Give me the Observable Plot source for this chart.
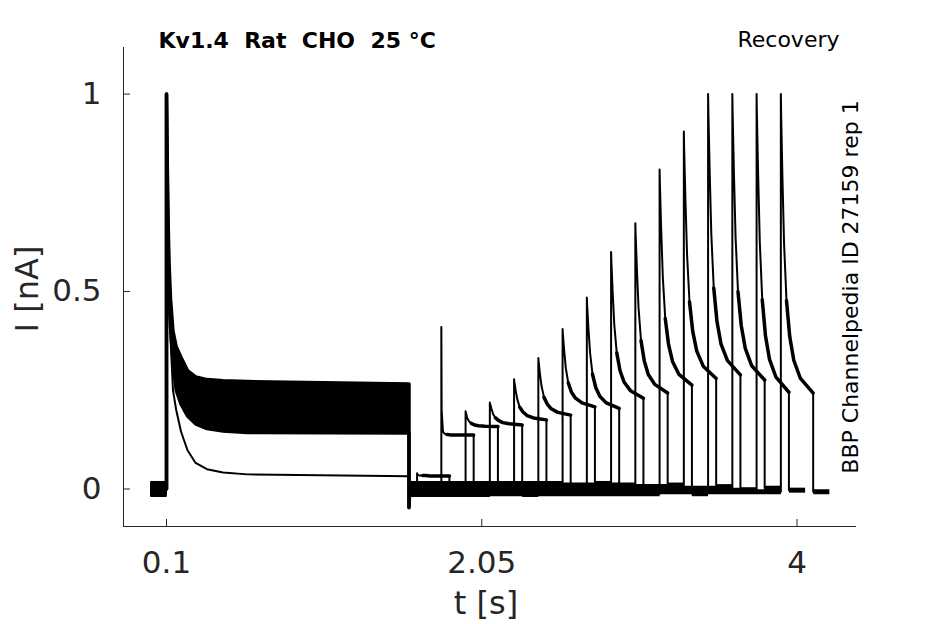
<!DOCTYPE html>
<html><head><meta charset="utf-8">
<script src="https://cdn.jsdelivr.net/npm/d3@7"></script>
<script src="https://cdn.jsdelivr.net/npm/@observablehq/plot@0.6"></script>
<style>body{margin:0;background:#fff;}</style>
</head><body><div id="chart"></div>
<script>
// ---- axes ----
const xTicks = [0.1, 2.05, 4];
const xTickLabels = ["0.1", "2.05", "4"];
const yTicks = [0, 0.5, 1];
const yTickLabels = ["0", "0.5", "1"];
const xDomain = [-0.166, 4.368];
const yDomain = [-0.095, 1.118];

// ---- protocol (s) ----
const pulse1Start = 0.1;
const pulse1End = 1.6;
const pulse2Duration = 0.2;
const tailDuration = 0.1;
const secondStart = [1.65, 1.8, 1.95, 2.1, 2.25, 2.4, 2.55, 2.7, 2.85, 3.0, 3.15, 3.3, 3.45, 3.6, 3.75, 3.9];
const baselineLevel = [0.012, -0.01, 0.004, -0.014, 0.008, -0.004, 0.014, -0.008, 0.0, 0.01, -0.012, 0.006, -0.002, 0.002, -0.003, -0.007];
const stepArtifact = -0.047;

// ---- first pulse (time after 0.1 s, nA) ----
const firstOffsets = [0, 0.003, 0.008, 0.015, 0.025, 0.04, 0.06, 0.09, 0.13, 0.18, 0.25, 0.35, 0.5, 1.5];
const firstUpper = [1, 0.88, 0.72, 0.58, 0.48, 0.40, 0.36, 0.333, 0.30, 0.284, 0.277, 0.274, 0.272, 0.266];
const firstLower = [1, 0.86, 0.68, 0.52, 0.41, 0.32, 0.25, 0.215, 0.185, 0.165, 0.153, 0.147, 0.143, 0.142];
const firstFast  = [1, 0.85, 0.66, 0.5, 0.38, 0.25, 0.2, 0.145, 0.098, 0.066, 0.05, 0.042, 0.037, 0.032];

// ---- second pulse (time after its start, nA), one row per sweep ----
const secondOffsets = [0, 0.002, 0.01, 0.02, 0.035, 0.055, 0.08, 0.12, 0.2];
const plateauFrom = 4; // index in secondOffsets where the noisy plateau begins
const secondPulse = [
  [0.04, 0.036, 0.035, 0.034, 0.034, 0.034, 0.033, 0.033, 0.033],
  [0.41, 0.2, 0.145, 0.14, 0.138, 0.137, 0.137, 0.137, 0.137],
  [0.197, 0.193, 0.18, 0.172, 0.166, 0.162, 0.16, 0.159, 0.158],
  [0.219, 0.215, 0.203, 0.19, 0.18, 0.173, 0.168, 0.165, 0.162],
  [0.278, 0.271, 0.249, 0.227, 0.207, 0.195, 0.186, 0.18, 0.175],
  [0.332, 0.322, 0.291, 0.26, 0.232, 0.215, 0.203, 0.194, 0.187],
  [0.405, 0.391, 0.35, 0.306, 0.269, 0.245, 0.23, 0.218, 0.208],
  [0.485, 0.465, 0.406, 0.345, 0.291, 0.257, 0.235, 0.218, 0.204],
  [0.60, 0.574, 0.496, 0.415, 0.345, 0.30, 0.271, 0.249, 0.23],
  [0.673, 0.643, 0.553, 0.458, 0.376, 0.325, 0.29, 0.265, 0.243],
  [0.809, 0.771, 0.656, 0.536, 0.432, 0.367, 0.323, 0.29, 0.263],
  [0.905, 0.861, 0.73, 0.593, 0.474, 0.399, 0.349, 0.311, 0.28],
  [1, 0.95, 0.801, 0.645, 0.509, 0.424, 0.367, 0.325, 0.289],
  [1, 0.949, 0.797, 0.638, 0.50, 0.414, 0.356, 0.312, 0.276],
  [1, 0.947, 0.789, 0.623, 0.479, 0.388, 0.328, 0.283, 0.245],
  [1, 0.947, 0.787, 0.621, 0.477, 0.386, 0.326, 0.281, 0.243]
];

// ---- texts ----
const titleText = "Kv1.4  Rat  CHO  25 °C";
const protocolText = "Recovery";
const sourceText = "BBP Channelpedia ID 27159 rep 1";
const xLabel = "t [s]";
const yLabel = "I [nA]";

// ---- build tables ----
const thin = [], plateau = [], thick = [];
function push(arr, id, pts) { for (const [t, I] of pts) arr.push({id, t, I}); }

// first-pulse traces
[["upper", firstUpper], ["lower", firstLower], ["fast", firstFast]].forEach(([name, vals]) => {
  const pts = [[pulse1Start, 0]];
  firstOffsets.forEach((o, i) => pts.push([pulse1Start + o, vals[i]]));
  pts.push([pulse1End, stepArtifact], [pulse1End + 0.004, 0]);
  push(thin, "p1-" + name, pts);
});
const band = firstOffsets.map((o, i) => ({t: pulse1Start + o, lo: firstLower[i], hi: firstUpper[i]}));

secondStart.forEach((ts, k) => {
  const b = baselineLevel[k];
  push(thick, "pre" + k, [[0, b], [pulse1Start, b]]);
  push(thick, "gap" + k, [[pulse1End + 0.004, b], [ts, b]]);
  const pts = [[ts, b]];
  secondOffsets.forEach((o, i) => pts.push([ts + o, secondPulse[k][i]]));
  pts.push([ts + pulse2Duration, b]);
  push(thin, "p2-" + k, pts);
  push(plateau, "pl" + k, secondOffsets.slice(plateauFrom).map((o, i) => [ts + o, secondPulse[k][plateauFrom + i]]));
  push(thick, "tail" + k, [[ts + pulse2Duration, b], [ts + pulse2Duration + tailDuration, b]]);
});

const axisColor = "#262626";
const plotH = 624 - 47 - 98, plotW = 945 - 123 - 89;

const plot = Plot.plot({
  width: 945, height: 624,
  marginLeft: 123, marginRight: 89, marginTop: 47, marginBottom: 98,
  x: {domain: xDomain, axis: null},
  y: {domain: yDomain, axis: null},
  style: {fontFamily: "DejaVu Sans", background: "white"},
  marks: [
    Plot.areaY(band, {x: "t", y1: "lo", y2: "hi", fill: "black"}),
    Plot.line(thick, {x: "t", y: "I", z: "id", stroke: "black", strokeWidth: 5, strokeLinecap: "butt"}),
    Plot.line(thin, {x: "t", y: "I", z: "id", stroke: "black", strokeWidth: 2, strokeLinejoin: "round"}),
    Plot.line(plateau, {x: "t", y: "I", z: "id", stroke: "black", strokeWidth: 3.5}),
    Plot.line(thin.filter(d => d.id === "p1-upper" || d.id === "p1-lower"), {x: "t", y: "I", z: "id", stroke: "black", strokeWidth: 3.5}),
    // axes
    Plot.ruleX([xDomain[0]], {x: d => d, stroke: axisColor}),
    Plot.ruleY([yDomain[0]], {y: d => d, stroke: axisColor}),
    Plot.ruleX(xTicks, {x: d => d, insetTop: plotH - 7, stroke: axisColor}),
    Plot.ruleY(yTicks, {y: d => d, insetRight: plotW - 7, stroke: axisColor}),
    Plot.text(xTicks, {x: d => d, y: () => yDomain[0], text: (d, i) => xTickLabels[i], dy: 37, fontSize: 31, fill: axisColor}),
    Plot.text(yTicks, {x: () => xDomain[0], y: d => d, text: (d, i) => yTickLabels[i], dx: -22, textAnchor: "end", fontSize: 31, fill: axisColor}),
    Plot.text([xLabel], {frameAnchor: "bottom", text: d => d, dy: 77, dx: -4, lineAnchor: "middle", fontSize: 32, fill: axisColor}),
    Plot.text([yLabel], {frameAnchor: "left", text: d => d, dx: -96, dy: 2, rotate: -90, textAnchor: "middle", lineAnchor: "middle", fontSize: 32, fill: axisColor}),
    // annotations
    Plot.text([titleText], {frameAnchor: "top-left", text: d => d, dx: 35, dy: -7, textAnchor: "start", lineAnchor: "middle", fontSize: 22, fontWeight: "bold", fill: "black"}),
    Plot.text([protocolText], {frameAnchor: "top-right", text: d => d, dx: -17, dy: -8, textAnchor: "end", lineAnchor: "middle", fontSize: 22, fill: "black"}),
    Plot.text([sourceText], {frameAnchor: "right", text: d => d, dx: -6, rotate: -90, textAnchor: "middle", lineAnchor: "middle", fontSize: 22, fill: "black"})
  ]
});
document.getElementById("chart").append(plot);
</script>
</body></html>
